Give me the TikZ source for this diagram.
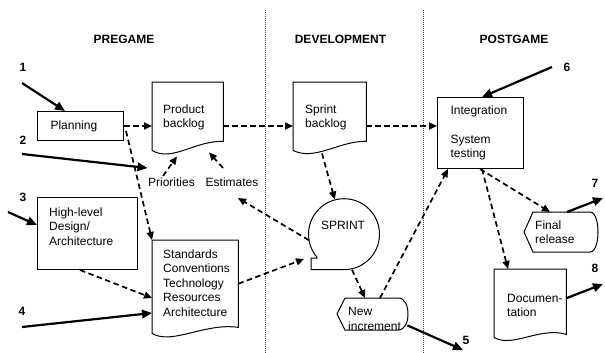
\documentclass[tikz,border=0pt]{standalone}
\usepackage{fontspec}
\setmainfont{Liberation Sans}
\usetikzlibrary{arrows.meta,calc}

\begin{document}
\begin{tikzpicture}[x=1pt,y=-1pt,
  font=\fontsize{12}{14.5}\selectfont,
  outline/.style={draw=black, line width=1pt},
  boxnode/.style={outline, rectangle, anchor=north west, inner ysep=0pt, align=left},
  area/.style={rectangle, anchor=north west, inner sep=0pt},
  txt/.style={anchor=west, align=left, inner sep=0pt},
  flow/.style={line width=1.7pt, dash pattern=on 5.5pt off 3.5pt, -{Triangle[length=8pt,width=7pt]}},
  feed/.style={line width=2.2pt, -{Triangle[length=10pt,width=8.5pt]}},
  phase/.style={font=\fontsize{12}{14.5}\selectfont\bfseries, inner sep=0pt},
  num/.style={font=\fontsize{12}{14.5}\selectfont\bfseries, inner sep=0pt},
  divider/.style={draw=black!75, line width=0.9pt, dash pattern=on 1pt off 1pt}
]
\useasboundingbox (0,0) rectangle (605,353);

% phase headings and dividers
\node[phase] (pre) at (124,39) {PREGAME};
\node[phase] (dev) at (340.5,39) {DEVELOPMENT};
\node[phase] (post) at (514,39) {POSTGAME};
\draw[divider] (265.5,10) -- (265.5,353);
\draw[divider] (423.5,10) -- (423.5,353);

% plain boxes
\node[boxnode, minimum width=86pt, minimum height=29pt, text width=60pt, inner xsep=13pt] (plan) at (37,111) {Planning};
\node[boxnode, minimum width=86pt, minimum height=71pt, text width=60pt, inner xsep=13pt] (integ) at (437,97) {Integration\\[14.5pt]System\\testing};
\node[boxnode, minimum width=100pt, minimum height=72pt, inner xsep=0pt] (hl) at (37,197) {};
\node[txt] (hlT) at (49,226.5) {High-level\\Design/\\Architecture};

% document shapes
\node[area, minimum width=71pt, minimum height=59pt] (pb) at (152,82) {};
\draw[outline] (pb.south east) -- (pb.north east) -- (pb.north west) -- ($(pb.south west)+(0,9)$)
  .. controls ($(pb.south west)+(20,21)$) and ($(pb.south west)+(43,-1)$) .. (pb.south east) -- cycle;
\node[txt] (pbT) at (163,117.5) {Product\\backlog};

\node[area, minimum width=73pt, minimum height=59pt] (sb) at (293,82) {};
\draw[outline] (sb.south east) -- (sb.north east) -- (sb.north west) -- ($(sb.south west)+(0,9)$)
  .. controls ($(sb.south west)+(22,20)$) and ($(sb.south west)+(47,-1)$) .. (sb.south east) -- cycle;
\node[txt] (sbT) at (305,117.5) {Sprint\\backlog};

\node[area, minimum width=86pt, minimum height=87pt] (std) at (152,240) {};
\draw[outline] (std.south east) -- (std.north east) -- (std.north west) -- ($(std.south west)+(0,6)$)
  .. controls ($(std.south west)+(20,18)$) and ($(std.south west)+(53,-5)$) .. (std.south east) -- cycle;
\node[txt] (stdT) at (163,283) {Standards\\Conventions\\Technology\\Resources\\Architecture};

\node[area, minimum width=72pt, minimum height=65pt] (doc) at (494,269) {};
\draw[outline] (doc.south east) -- (doc.north east) -- (doc.north west) -- ($(doc.south west)+(0,3)$)
  .. controls ($(doc.south west)+(18,14)$) and ($(doc.south west)+(46,-8)$) .. (doc.south east) -- cycle;
\node[txt] (docT) at (507,305.5) {Documen-\\tation};

% sprint loop
\node[circle, minimum size=71pt, inner sep=0pt] (sprint) at (344,234) {};
\draw[outline] (sprint.south) arc[start angle=-90, end angle=220.4, radius=35.5pt]
  -- (317,258) -- (311,258) -- (311,269.5) -- cycle;
\node[inner sep=0pt] (sprT) at (343,225) {SPRINT};

% display shapes
\node[area, minimum width=71pt, minimum height=32pt] (newinc) at (337,298) {};
\draw[outline] (345,298) -- (398,298) .. controls (405,298) and (408,306) .. (408,314)
  .. controls (408,322) and (405,330) .. (398,330) -- (345,330) -- (337,314) -- cycle;
\node[txt] (niT) at (348,319) {New\\increment};

\node[area, minimum width=74pt, minimum height=40pt] (fr) at (524,212) {};
\draw[outline] (533,212) -- (590,212) .. controls (596,212) and (598,224) .. (598,232)
  .. controls (598,240) and (596,252) .. (590,252) -- (533,252) -- (524,232) -- cycle;
\node[txt] (frT) at (535,232) {Final\\release};

% free texts
\node[inner sep=0pt] (prio) at (171.5,182) {Priorities};
\node[inner sep=0pt] (est) at (232,182) {Estimates};

% numbered inputs and outputs
\node[num] (n1) at (23,67) {1};
\node[num] (n2) at (23,140) {2};
\node[num] (n3) at (23,197) {3};
\node[num] (n4) at (22,311) {4};
\node[num] (n5) at (466,340) {5};
\node[num] (n6) at (567,67) {6};
\node[num] (n7) at (595,183) {7};
\node[num] (n8) at (595,268) {8};

\coordinate (s1) at (22,83);
\coordinate (s2) at (22,154);
\coordinate (s3) at (8,212);
\coordinate (s4) at (22,327);
\coordinate (e5) at (463,350);
\coordinate (s6) at (552,67);
\coordinate (e7) at (603,198);
\coordinate (e8) at (603,284);

\draw[feed] (s1) -- ($(plan.north west)+(28,0)$);
\draw[feed] (s2) -- ($(prio.center)+(-24,-14)$);
\draw[feed] (s3) -- ($(hl.north west)+(0,28)$);
\draw[feed] (s4) -- ($(std.north west)+(0,73)$);
\draw[feed] ($(newinc.south east)+(-1,-5)$) -- (e5);
\draw[feed] (s6) -- ($(integ.north west)+(45,0)$);
\draw[feed] ($(fr.north west)+(43,0)$) -- (e7);
\draw[feed] ($(doc.east)+(0,-3.5)$) -- (e8);

% dashed flows
\draw[flow] (plan.east) -- (pb.west |- plan.east);
\draw[flow] (pb.east |- plan.east) -- (sb.west |- plan.east);
\draw[flow] (sb.east |- plan.east) -- (integ.west |- plan.east);
\draw[flow] ($(plan.south east)+(2,-10)$) -- (std.north west);
\draw[flow] ($(prio.center)+(-8.5,-6)$) -- ($(pb.south west)+(25,15)$);
\draw[flow] ($(est.center)+(-9,-14)$) -- ($(pb.south west)+(57,11)$);
\draw[flow] (sprint.190) -- ($(est.center)+(6,16)$);
\draw[flow] (std.east) -- ($(sprint.center)+(-40,25)$);
\draw[flow] ($(hl.south west)+(43,0)$) -- ($(std.north west)+(0,58)$);
\draw[flow] ($(sb.south west)+(29,12)$) -- (sprint.105);
\draw[flow] ($(sprint.south)+(8,0)$) -- ($(newinc.north west)+(28,0)$);
\draw[flow] ($(newinc.north west)+(43,0)$) -- ($(integ.south west)+(11,0)$);
\draw[flow] ($(integ.south west)+(43,0)$) -- ($(fr.north west)+(26,0)$);
\draw[flow] ($(integ.south west)+(45,0)$) -- ($(doc.north west)+(14,0)$);
\end{tikzpicture}
\end{document}
